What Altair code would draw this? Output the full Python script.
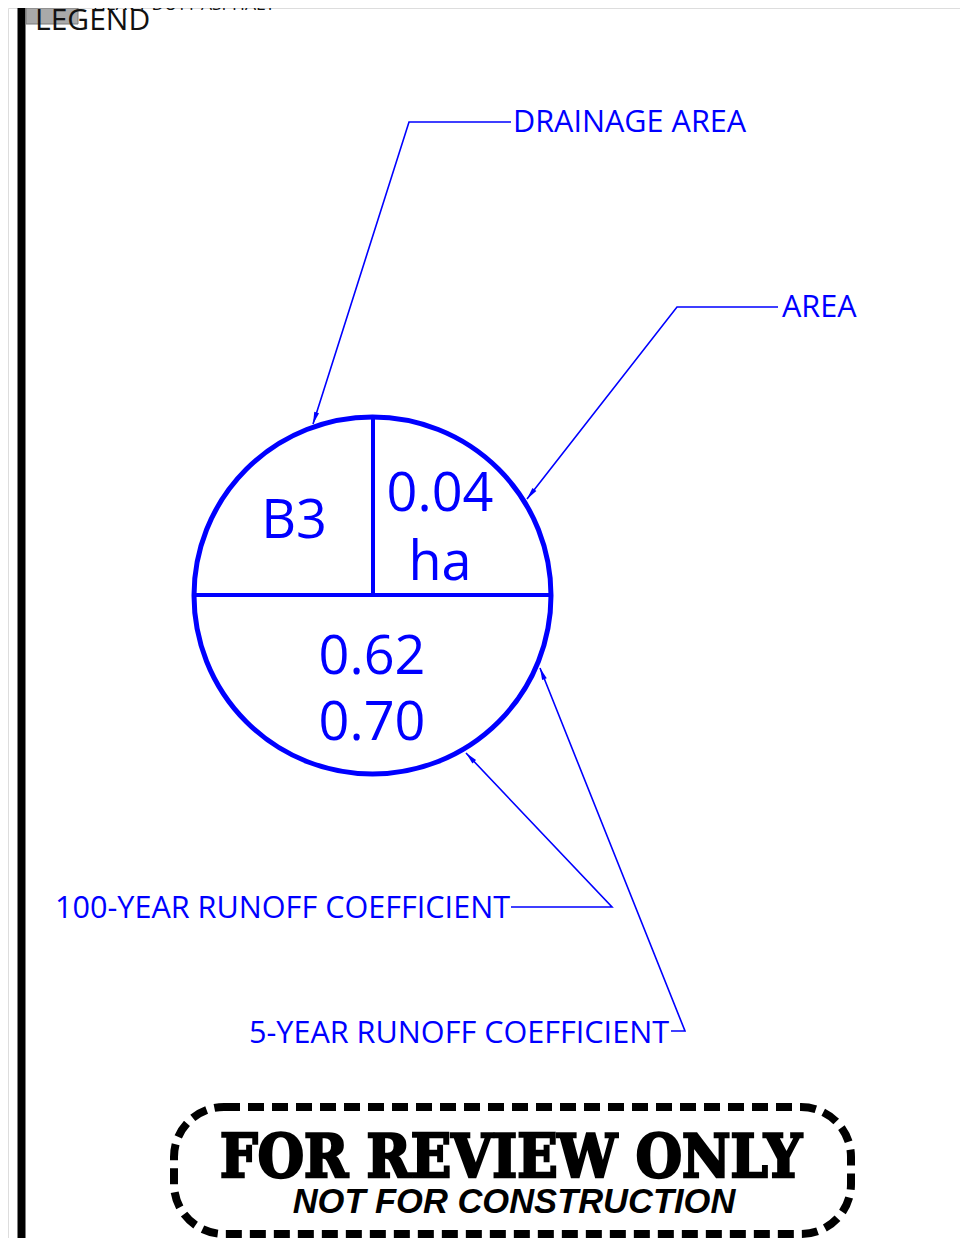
import math
import altair as alt
import pandas as pd

# ---------------- drawing data (page pixel units) ----------------
# left border bar and grey legend swatch
bar_x = [17.5]; bar_x2 = [25.5]; bar_y = [8]; bar_y2 = [1238]
swatch_x = [26]; swatch_x2 = [78]; swatch_y = [8]; swatch_y2 = [24]

# header texts
header_text = ["LEGEND", "HEAVY DUTY ASPHALT"]
header_x = [35, 93]
header_y = [30, 10]
header_size = [30, 17.5]

# drainage-area symbol
circle_x = [372.5]; circle_y = [595.5]; circle_r = [178.5]
divider_x = [192, 373]; divider_x2 = [553, 373]
divider_y = [595, 415]; divider_y2 = [595, 595]

sym_text = ["B3", "0.04", "ha", "0.62", "0.70"]
sym_x = [294, 440, 440, 372, 372]
sym_y = [538, 511, 580, 674, 740]

# leader lines (text end -> knee -> arrow tip)
leader_name = ["drainage", "area", "c100", "c5"]
leader_px = [[511, 409, 313], [778, 677, 527], [511, 612, 466], [671, 685, 540]]
leader_py = [[122, 122, 424], [307, 307, 499], [907, 907, 753], [1031, 1031, 668]]

label_text = ["DRAINAGE AREA", "AREA", "100-YEAR RUNOFF COEFFICIENT", "5-YEAR RUNOFF COEFFICIENT"]
label_x = [513, 782, 55, 249]
label_y = [132, 317, 918, 1043]

# review stamp
stamp_x = [174]; stamp_x2 = [851]; stamp_y = [1107]; stamp_y2 = [1234]
stamp_text = ["FOR REVIEW ONLY", "NOT FOR CONSTRUCTION"]
stamp_tx = [511, 514]
stamp_ty = [1177, 1213]

BLUE = "#0000ff"

# ---------------- scales (page is 968 x 1246 with an 8px margin) ----------------
xs = alt.Scale(domain=[8, 960], nice=False, zero=False)
ys = alt.Scale(domain=[8, 1238], nice=False, zero=False, reverse=True)


def X(f):
    return alt.X(f, type="quantitative", scale=xs, axis=None)


def Y(f):
    return alt.Y(f, type="quantitative", scale=ys, axis=None)


# ---------------- tables ----------------
bar_df = pd.DataFrame({"x": bar_x, "x2": bar_x2, "y": bar_y, "y2": bar_y2})
swatch_df = pd.DataFrame({"x": swatch_x, "x2": swatch_x2, "y": swatch_y, "y2": swatch_y2})
header_df = pd.DataFrame({"t": header_text, "x": header_x, "y": header_y})
circle_df = pd.DataFrame({"x": circle_x, "y": circle_y})
divider_df = pd.DataFrame({"x": divider_x, "x2": divider_x2, "y": divider_y, "y2": divider_y2})
sym_df = pd.DataFrame({"t": sym_text, "x": sym_x, "y": sym_y})
label_df = pd.DataFrame({"t": label_text, "x": label_x, "y": label_y})
stamp_df = pd.DataFrame({"x": stamp_x, "x2": stamp_x2, "y": stamp_y, "y2": stamp_y2})
stamp_t1 = pd.DataFrame({"t": stamp_text[:1], "x": stamp_tx[:1], "y": stamp_ty[:1]})
stamp_t2 = pd.DataFrame({"t": stamp_text[1:], "x": stamp_tx[1:], "y": stamp_ty[1:]})

rows = []
arrows = []
for name, pxs, pys in zip(leader_name, leader_px, leader_py):
    for i, (a, b) in enumerate(zip(pxs, pys)):
        rows.append({"g": name, "o": i, "x": a, "y": b})
    dx = pxs[-1] - pxs[-2]
    dy = pys[-1] - pys[-2]
    ang = math.degrees(math.atan2(dx, -dy)) % 360
    arrows.append({"g": name, "x": pxs[-1], "y": pys[-1], "a": ang})
leader_df = pd.DataFrame(rows)
arrow_df = pd.DataFrame(arrows)

# ---------------- layers ----------------
bar = alt.Chart(bar_df).mark_rect(color="black").encode(
    x=X("x"), x2=alt.X2("x2"), y=Y("y"), y2=alt.Y2("y2"))
swatch = alt.Chart(swatch_df).mark_rect(fill="#a9a9a9", stroke="#7a7a7a", strokeWidth=1).encode(
    x=X("x"), x2=alt.X2("x2"), y=Y("y"), y2=alt.Y2("y2"))
header1 = alt.Chart(header_df.iloc[:1]).mark_text(
    font="Open Sans", fontSize=header_size[0], align="left", baseline="alphabetic", color="#111111"
).encode(x=X("x"), y=Y("y"), text="t:N")
header2 = alt.Chart(header_df.iloc[1:]).mark_text(
    font="Open Sans", fontSize=header_size[1], align="left", baseline="alphabetic", color="#111111"
).encode(x=X("x"), y=Y("y"), text="t:N")

circle = alt.Chart(circle_df).mark_point(
    shape="circle", filled=False, color=BLUE, strokeWidth=5, opacity=1,
    size=(2 * circle_r[0]) ** 2
).encode(x=X("x"), y=Y("y"))
dividers = alt.Chart(divider_df).mark_rule(color=BLUE, strokeWidth=4).encode(
    x=X("x"), x2=alt.X2("x2"), y=Y("y"), y2=alt.Y2("y2"))
sym = alt.Chart(sym_df).mark_text(
    font="Open Sans", fontSize=54, align="center", baseline="alphabetic", color=BLUE
).encode(x=X("x"), y=Y("y"), text="t:N")

leaders = alt.Chart(leader_df).mark_line(color=BLUE, strokeWidth=1.6).encode(
    x=X("x"), y=Y("y"), detail="g:N", order="o:Q")
arrowheads = alt.Chart(arrow_df).mark_point(
    shape="M0,0L0.5,2.4L-0.5,2.4Z", filled=True, color=BLUE, opacity=1, size=100
).encode(x=X("x"), y=Y("y"), angle=alt.Angle("a:Q", scale=None))
labels = alt.Chart(label_df).mark_text(
    font="Open Sans", fontSize=30.6, align="left", baseline="alphabetic", color=BLUE
).encode(x=X("x"), y=Y("y"), text="t:N")

stamp = alt.Chart(stamp_df).mark_rect(
    fillOpacity=0, stroke="black", strokeWidth=8, strokeDash=[16, 8], cornerRadius=50
).encode(x=X("x"), x2=alt.X2("x2"), y=Y("y"), y2=alt.Y2("y2"))
stamp1 = alt.Chart(stamp_t1).mark_text(
    font="DejaVu Serif Condensed, DejaVu Serif", fontSize=59, fontWeight="bold",
    stroke="black", strokeWidth=2.4,
    align="center", baseline="alphabetic", color="black"
).encode(x=X("x"), y=Y("y"), text="t:N")
stamp2 = alt.Chart(stamp_t2).mark_text(
    font="Liberation Sans", fontSize=34.5, fontWeight="bold", fontStyle="italic",
    align="center", baseline="alphabetic", color="black"
).encode(x=X("x"), y=Y("y"), text="t:N")

chart = alt.layer(
    bar, swatch, header1, header2, circle, dividers, sym, leaders, arrowheads, labels,
    stamp, stamp1, stamp2
).properties(
    width=952, height=1230, padding=0, autosize=alt.AutoSizeParams(type="none")
).configure_view(strokeWidth=0, stroke="transparent").configure(background="white")

chart.save("out.html", embed_options={"renderer": "svg", "actions": False})
